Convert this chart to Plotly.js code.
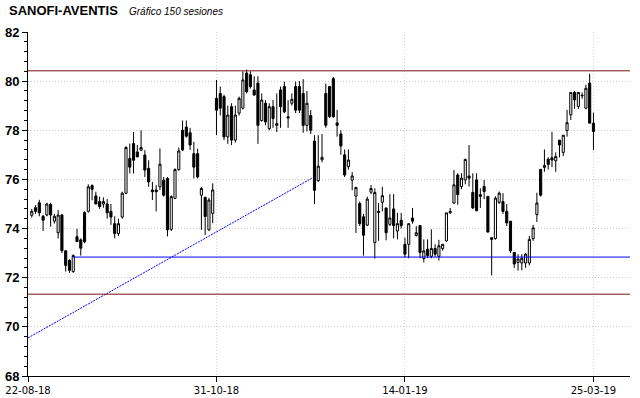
<!DOCTYPE html>
<html><head><meta charset="utf-8">
<script src="https://cdn.plot.ly/plotly-3.0.1.min.js"></script>
<style>html,body{margin:0;padding:0;background:#fff}#chart{width:640px;height:398px}</style>
</head><body><div id="chart"></div>
<script>
// OHLC per session (150 sessions)
const openP = [74.54,74.85,75.05,74.5,74.55,74.98,74.3,73.83,74.55,73.1,72.7,72.25,73.67,73.54,74.65,74.7,75.75,75.33,75.1,75.0,
75.0,74.7,74.2,73.8,74.47,75.44,76.85,77.46,77.12,77.19,76.99,76.45,75.57,75.57,75.7,75.97,76.04,73.97,75.23,76.4,
78.0,78.13,77.9,77.05,77.05,75.36,75.27,73.95,74.62,79.3,79.5,79.37,77.73,78.96,77.6,78.7,78.9,80.33,80.26,79.64,
79.92,78.4,79.1,78.07,78.96,78.2,79.64,79.78,78.55,79.1,79.78,79.78,79.5,78.2,78.6,77.56,75.95,76.8,79.5,79.78,
80.1,78.3,77.85,77.0,76.52,75.97,75.32,75.02,74.48,74.14,75.48,73.43,74.7,75.07,74.84,74.17,74.8,73.9,74.34,73.36,
73.36,74.43,73.72,74.12,72.78,73.16,72.87,73.19,72.87,73.19,73.5,74.64,75.04,76.18,75.71,75.98,76.14,75.47,75.98,75.38,
75.71,75.31,73.63,73.59,75.07,75.1,74.7,74.3,73.03,72.62,72.6,72.6,72.6,73.59,74.57,76.41,76.49,76.82,76.88,76.76,
77.6,77.1,77.99,78.63,79.54,78.97,79.4,78.9,79.92,78.29];
const highP = [74.8,74.95,75.17,74.55,75.05,75.05,74.6,74.75,74.6,73.1,72.75,72.95,73.99,73.6,74.7,75.8,75.8,75.5,75.3,75.27,
75.2,75.0,74.5,74.4,75.5,77.35,77.46,77.93,77.4,78.0,77.19,76.78,75.9,75.77,77.26,76.1,76.1,75.35,76.45,77.3,
78.4,78.4,78.1,77.53,77.25,75.7,75.3,75.25,75.84,80.05,79.78,79.45,79.0,79.1,79.0,79.37,80.4,80.47,80.4,80.2,
80.2,79.5,79.23,79.1,79.23,79.5,79.78,79.98,79.23,79.5,79.98,80.0,80.08,79.6,78.82,77.8,77.8,77.85,79.9,79.8,
80.17,78.83,78.0,77.22,77.22,76.3,75.7,75.1,74.6,75.3,75.77,75.64,75.04,75.7,74.84,75.4,75.4,74.64,74.64,73.63,
74.2,74.84,74.1,74.12,73.56,73.56,73.97,73.36,73.54,73.36,74.64,74.84,76.38,76.25,76.25,76.85,77.4,76.25,76.25,75.64,
75.98,75.31,73.63,75.31,75.51,75.44,75.0,74.3,73.03,72.96,72.96,73.0,73.7,74.15,75.46,76.41,77.22,76.9,77.94,77.1,
77.6,77.8,78.83,79.54,79.6,79.54,79.54,79.85,80.3,78.72];
const lowP = [74.45,74.6,74.5,73.9,74.5,74.08,74.2,73.6,73.0,72.25,72.2,72.2,73.45,72.9,73.4,74.65,75.15,75.0,74.8,74.85,
74.4,74.15,73.6,73.7,74.4,75.4,76.24,76.24,76.9,77.15,76.1,75.7,75.16,74.7,75.57,75.3,73.68,73.9,75.2,76.35,
77.15,77.7,77.2,76.04,76.04,73.95,73.74,73.9,74.22,77.8,78.6,77.6,77.45,77.4,77.5,78.6,78.85,79.5,79.7,79.4,
77.45,78.35,78.2,78.0,78.1,77.93,78.1,78.7,78.1,79.0,78.7,78.7,77.9,77.95,77.85,75.0,75.9,76.7,78.1,78.5,
78.5,77.74,77.0,76.1,76.4,75.56,73.82,74.1,72.9,74.1,75.4,72.78,73.5,74.7,73.52,74.1,73.6,73.56,74.0,72.83,
72.79,74.2,73.68,72.79,72.62,72.8,72.79,72.85,72.7,73.1,73.45,74.6,75.0,74.97,75.6,75.8,75.71,74.8,74.7,74.84,
75.2,73.83,72.09,73.55,75.0,74.6,74.1,73.0,72.4,72.29,72.3,72.4,72.5,73.5,74.27,75.3,76.31,76.4,76.5,76.31,
76.9,76.95,77.74,78.42,78.87,78.87,79.28,78.85,78.29,77.2];
const closeP = [74.7,74.7,74.64,74.34,75.0,74.55,74.5,74.55,73.1,72.5,72.3,72.9,73.47,73.2,73.46,75.7,75.6,75.0,74.9,75.1,
74.64,74.47,73.8,74.2,75.44,77.3,76.5,76.78,76.92,77.3,76.38,75.9,75.5,75.5,76.62,75.36,73.95,75.3,76.4,77.16,
77.2,77.76,77.4,76.5,76.1,75.63,74.49,75.16,75.57,78.82,78.9,77.73,78.62,77.6,78.62,79.3,80.05,79.57,79.78,79.44,
78.2,79.23,78.34,78.96,78.48,78.27,78.96,78.75,78.5,79.26,78.82,78.82,78.2,79.1,78.0,75.56,76.54,76.9,78.2,78.56,
78.56,78.2,77.36,76.18,76.79,76.14,75.67,74.2,73.73,75.2,75.63,75.47,74.66,75.34,73.83,74.43,74.12,74.2,74.12,72.96,
74.2,74.3,73.83,73.03,73.09,72.9,73.19,72.96,73.3,73.36,74.64,74.7,75.78,75.38,76.05,76.81,76.05,74.84,74.73,75.31,
75.51,73.86,73.56,75.24,75.44,74.7,74.23,73.09,72.56,72.76,72.79,72.96,73.56,74.03,75.04,75.36,76.57,76.61,76.79,76.93,
77.4,77.8,78.31,79.54,79.24,79.54,79.42,79.71,78.29,77.95];

const tickLabels = ['22-08-18','31-10-18','14-01-19','25-03-19'];
const tickSession = [-1, 49, 99, 149];

// reference levels
const resistLevel = 80.42;
const lowLevel = 71.33;
const supportLevel = 72.84;
const supportStart = 11;
// trend line (session, price)
const trendSession = [-1, 74.3];
const trendPrice = [69.55, 76.05];

const sessions = openP.map((_, i) => i);
const xRange = [-1, 158.7];

const traces = [
  {type:'candlestick', x:sessions, open:openP, high:highP, low:lowP, close:closeP,
   increasing:{line:{color:'#000',width:1}, fillcolor:'#ffffff'},
   decreasing:{line:{color:'#000',width:1}, fillcolor:'#000000'},
   whiskerwidth:0, hoverinfo:'skip', showlegend:false},
  {type:'scatter', mode:'lines', x:trendSession, y:trendPrice,
   line:{color:'#0000ff', width:1, dash:'2px,1px'}, hoverinfo:'skip', showlegend:false}
];

const layout = {
  width:640, height:398,
  margin:{l:28, r:10, t:32, b:22},
  paper_bgcolor:'#fff', plot_bgcolor:'#fff',
  showlegend:false,
  boxgap:0.2,
  xaxis:{range:xRange, tickmode:'array', tickvals:tickSession, ticktext:tickLabels,
    showgrid:true, gridcolor:'#d8cfd8', griddash:'1px,2px', gridwidth:1,
    showline:true, linecolor:'#000', linewidth:1, ticks:'outside', ticklen:5, tickcolor:'#000',
    tickfont:{family:'DejaVu Sans', size:10, color:'#000'},
    rangeslider:{visible:false}, zeroline:false, fixedrange:true},
  yaxis:{range:[68,82], dtick:2, tick0:68,
    showgrid:true, gridcolor:'#cccccc', griddash:'1px,2px', gridwidth:1,
    showline:true, linecolor:'#000', linewidth:1, ticks:'outside', ticklen:5, tickcolor:'#000',
    tickfont:{family:'Liberation Sans', size:13, color:'#000', weight:'bold'},
    minor:{dtick:0.4, tick0:68, ticks:'outside', ticklen:3, tickcolor:'#000', showgrid:false},
    zeroline:false, fixedrange:true},
  shapes:[
    {type:'line', xref:'x', yref:'y', x0:xRange[0], x1:xRange[1], y0:resistLevel, y1:resistLevel, line:{color:'#7a1010', width:1}},
    {type:'line', xref:'x', yref:'y', x0:xRange[0], x1:xRange[1], y0:lowLevel, y1:lowLevel, line:{color:'#7a1010', width:1}},
    {type:'line', xref:'x', yref:'y', x0:supportStart, x1:xRange[1], y0:supportLevel, y1:supportLevel, line:{color:'#0000ff', width:1}}
  ],
  annotations:[
    {xref:'paper', yref:'paper', x:-0.035, y:1.0, yshift:22, xanchor:'left', yanchor:'middle', showarrow:false,
     text:'<b>SANOFI-AVENTIS</b>', font:{family:'Liberation Sans', size:13, color:'#000'}},
    {xref:'paper', yref:'paper', x:0.165, y:1.0, yshift:21, xanchor:'left', yanchor:'middle', showarrow:false,
     text:'<i>Gráfico 150 sesiones</i>', font:{family:'Liberation Sans', size:10, color:'#000'}}
  ]
};

Plotly.newPlot('chart', traces, layout, {staticPlot:true, displayModeBar:false});
</script></body></html>
